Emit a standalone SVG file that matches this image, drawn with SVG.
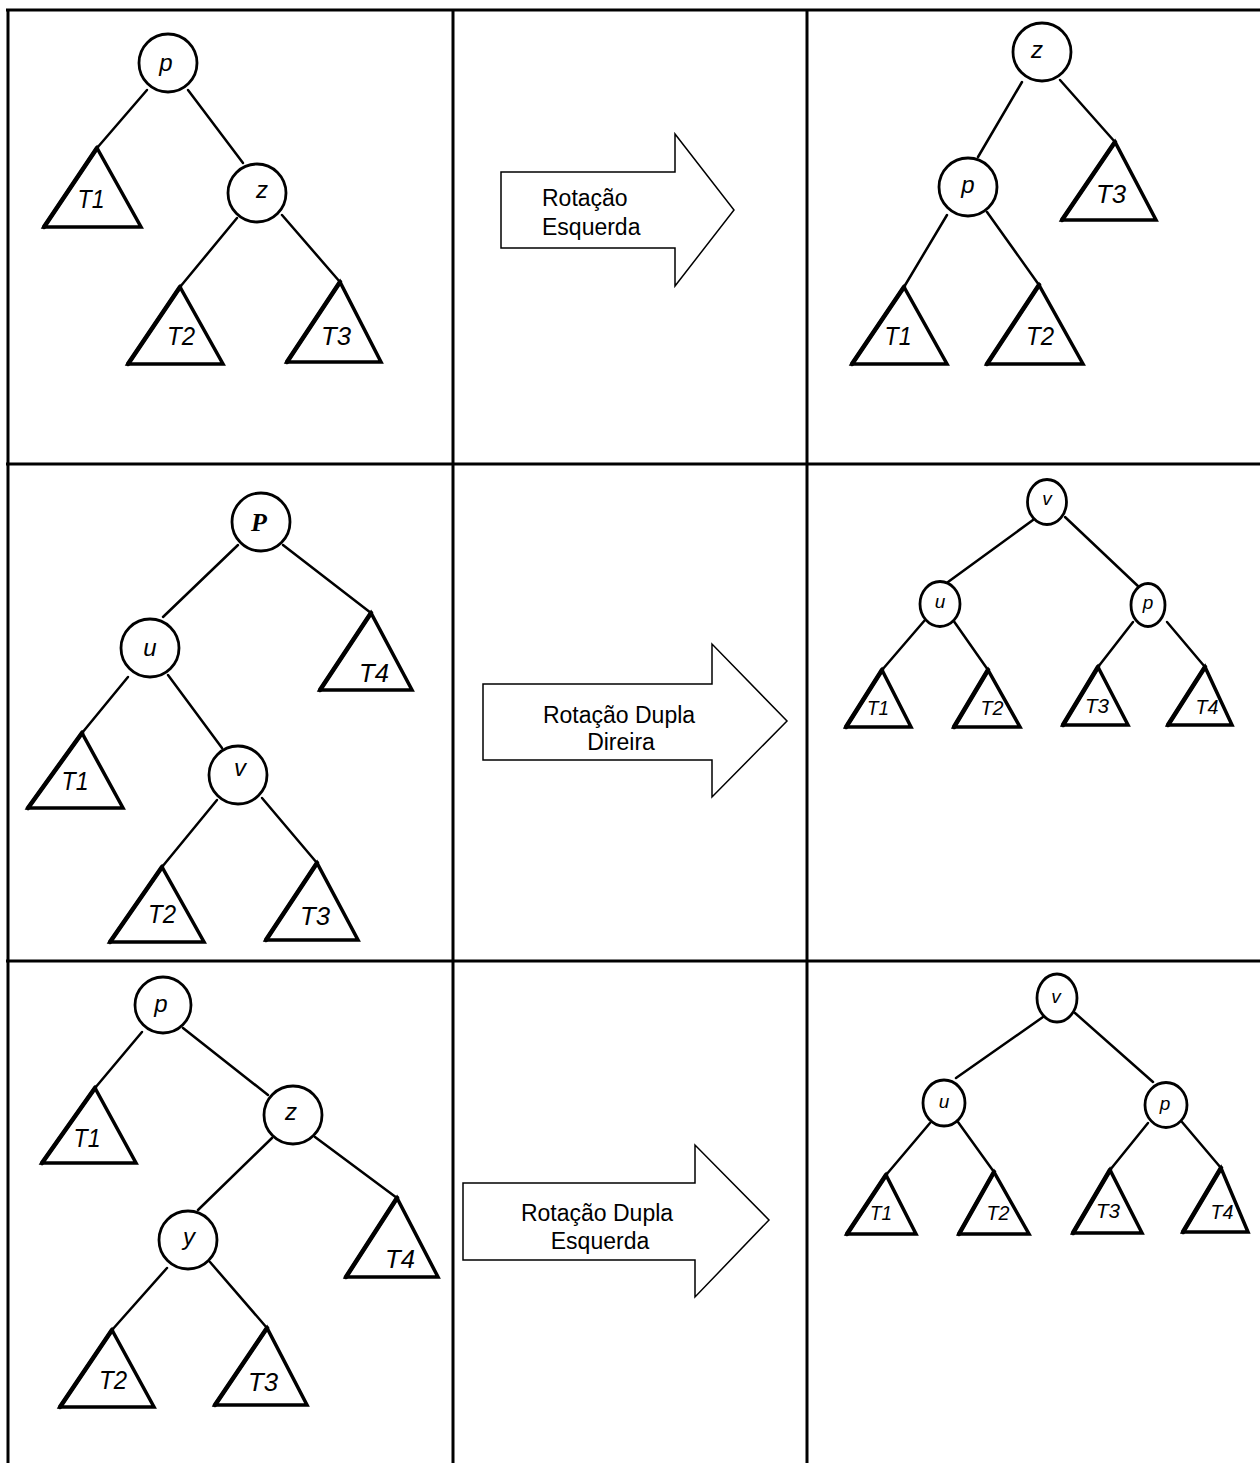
<svg xmlns="http://www.w3.org/2000/svg" width="1260" height="1463" viewBox="0 0 1260 1463">
<style>
.grid{stroke:#000;stroke-width:3;fill:none}
.edge{stroke:#000;stroke-width:2.5;fill:none;stroke-linecap:round}
.node{fill:#fff;stroke:#000;stroke-width:2.8}
.tri{fill:#fff;stroke:#000;stroke-width:3.5;stroke-linejoin:miter}
.tril{stroke:#000;stroke-width:4.5;stroke-linecap:round}
.lbl{font-family:"Liberation Sans",Arial,sans-serif;font-style:italic;font-size:25px;text-anchor:middle;fill:#000}
.slbl{font-family:"Liberation Sans",Arial,sans-serif;font-style:italic;font-size:21px;text-anchor:middle;fill:#000}
.nl{font-family:"Liberation Sans",Arial,sans-serif;font-style:italic;font-size:24px;text-anchor:middle;fill:#000}
.snl{font-family:"Liberation Sans",Arial,sans-serif;font-style:italic;font-size:19px;text-anchor:middle;fill:#000}
.arrow{fill:#fff;stroke:#000;stroke-width:1.5;stroke-linejoin:miter}
.at{font-family:"Liberation Sans",Arial,sans-serif;font-size:23px;fill:#000}
</style>
<rect width="1260" height="1463" fill="#fff"/>
<g id="grid">
<line class="grid" x1="6" y1="10" x2="1260" y2="10"/>
<line class="grid" x1="6" y1="464" x2="1260" y2="464"/>
<line class="grid" x1="6" y1="961" x2="1260" y2="961"/>
<line class="grid" x1="8" y1="9" x2="8" y2="1463"/>
<line class="grid" x1="453" y1="9" x2="453" y2="1463"/>
<line class="grid" x1="807" y1="9" x2="807" y2="1463"/>
</g>
<g id="connectors">
<line class="edge" x1="147" y1="90" x2="97" y2="148"/>
<line class="edge" x1="188" y1="90" x2="243" y2="163"/>
<line class="edge" x1="237" y1="218" x2="180" y2="287"/>
<line class="edge" x1="282" y1="215" x2="340" y2="282"/>
<line class="edge" x1="1022" y1="82" x2="978" y2="157"/>
<line class="edge" x1="1060" y1="80" x2="1115" y2="142"/>
<line class="edge" x1="947" y1="215" x2="904" y2="287"/>
<line class="edge" x1="987" y1="212" x2="1039" y2="285"/>
<line class="edge" x1="238" y1="545" x2="163" y2="617"/>
<line class="edge" x1="283" y1="545" x2="371" y2="613"/>
<line class="edge" x1="128" y1="677" x2="82" y2="733"/>
<line class="edge" x1="168" y1="675" x2="222" y2="748"/>
<line class="edge" x1="217" y1="800" x2="162" y2="867"/>
<line class="edge" x1="262" y1="798" x2="317" y2="863"/>
<line class="edge" x1="1033" y1="520" x2="948" y2="582"/>
<line class="edge" x1="1065" y1="517" x2="1140" y2="588"/>
<line class="edge" x1="925" y1="620" x2="882" y2="670"/>
<line class="edge" x1="953" y1="620" x2="988" y2="670"/>
<line class="edge" x1="1133" y1="622" x2="1098" y2="667"/>
<line class="edge" x1="1167" y1="622" x2="1205" y2="667"/>
<line class="edge" x1="142" y1="1032" x2="95" y2="1088"/>
<line class="edge" x1="183" y1="1028" x2="268" y2="1095"/>
<line class="edge" x1="272" y1="1138" x2="198" y2="1210"/>
<line class="edge" x1="315" y1="1137" x2="397" y2="1198"/>
<line class="edge" x1="167" y1="1268" x2="112" y2="1330"/>
<line class="edge" x1="210" y1="1262" x2="267" y2="1328"/>
<line class="edge" x1="1043" y1="1017" x2="956" y2="1078"/>
<line class="edge" x1="1075" y1="1013" x2="1153" y2="1082"/>
<line class="edge" x1="930" y1="1123" x2="886" y2="1175"/>
<line class="edge" x1="958" y1="1122" x2="994" y2="1172"/>
<line class="edge" x1="1148" y1="1123" x2="1110" y2="1170"/>
<line class="edge" x1="1182" y1="1122" x2="1221" y2="1168"/>
</g>
<g id="arrow1">
<polygon class="arrow" points="501,172 675,172 675,134 734,210 675,286 675,248 501,248"/>
<text class="at" x="542" y="206">Rotação</text>
<text class="at" x="542" y="235">Esquerda</text>
</g>
<g id="arrow2">
<polygon class="arrow" points="483,684 712,684 712,644 787,721 712,797 712,760 483,760"/>
<text class="at" x="619" y="723" text-anchor="middle">Rotação Dupla</text>
<text class="at" x="621" y="750" text-anchor="middle">Direira</text>
</g>
<g id="arrow3">
<polygon class="arrow" points="463,1183 695,1183 695,1145 769,1220 695,1297 695,1260 463,1260"/>
<text class="at" x="597" y="1221" text-anchor="middle">Rotação Dupla</text>
<text class="at" x="600" y="1249" text-anchor="middle">Esquerda</text>
</g>
<g id="tl-p"><circle class="node" cx="168" cy="63" r="29"/><text class="nl" x="166" y="71">p</text></g>
<g id="tl-z"><circle class="node" cx="257" cy="193" r="29"/><text class="nl" x="262" y="198">z</text></g>
<g id="tl-T1"><polygon class="tri" points="97,148 44,227 141,227"/><line class="tril" x1="97" y1="148" x2="44" y2="227"/><text class="lbl" x="91" y="208" textLength="27" lengthAdjust="spacingAndGlyphs">T1</text></g>
<g id="tl-T2"><polygon class="tri" points="180,287 128,364 223,364"/><line class="tril" x1="180" y1="287" x2="128" y2="364"/><text class="lbl" x="181" y="345" textLength="28" lengthAdjust="spacingAndGlyphs">T2</text></g>
<g id="tl-T3"><polygon class="tri" points="340,282 287,362 381,362"/><line class="tril" x1="340" y1="282" x2="287" y2="362"/><text class="lbl" x="336" y="345" textLength="30" lengthAdjust="spacingAndGlyphs">T3</text></g>
<g id="tr-z"><circle class="node" cx="1042" cy="52" r="29"/><text class="nl" x="1037" y="58">z</text></g>
<g id="tr-p"><circle class="node" cx="968" cy="187" r="29"/><text class="nl" x="968" y="193">p</text></g>
<g id="tr-T3"><polygon class="tri" points="1115,142 1062,220 1156,220"/><line class="tril" x1="1115" y1="142" x2="1062" y2="220"/><text class="lbl" x="1111" y="203" textLength="30" lengthAdjust="spacingAndGlyphs">T3</text></g>
<g id="tr-T1"><polygon class="tri" points="904,287 852,364 947,364"/><line class="tril" x1="904" y1="287" x2="852" y2="364"/><text class="lbl" x="898" y="345" textLength="27" lengthAdjust="spacingAndGlyphs">T1</text></g>
<g id="tr-T2"><polygon class="tri" points="1039,285 987,364 1083,364"/><line class="tril" x1="1039" y1="285" x2="987" y2="364"/><text class="lbl" x="1040" y="345" textLength="28" lengthAdjust="spacingAndGlyphs">T2</text></g>
<g id="ml-P"><circle class="node" cx="261" cy="522" r="29"/><text x="259" y="531" text-anchor="middle" font-family="'Liberation Serif','Times New Roman',serif" font-style="italic" font-weight="bold" font-size="26">P</text></g>
<g id="ml-u"><circle class="node" cx="150" cy="648" r="29"/><text class="nl" x="150" y="656">u</text></g>
<g id="ml-v"><circle class="node" cx="238" cy="775" r="29"/><text class="nl" x="240" y="776">v</text></g>
<g id="ml-T4"><polygon class="tri" points="371,613 320,690 412,690"/><line class="tril" x1="371" y1="613" x2="320" y2="690"/><text class="lbl" x="374" y="682" textLength="30" lengthAdjust="spacingAndGlyphs">T4</text></g>
<g id="ml-T1"><polygon class="tri" points="82,733 28,808 123,808"/><line class="tril" x1="82" y1="733" x2="28" y2="808"/><text class="lbl" x="75" y="790" textLength="27" lengthAdjust="spacingAndGlyphs">T1</text></g>
<g id="ml-T2"><polygon class="tri" points="162,867 110,942 204,942"/><line class="tril" x1="162" y1="867" x2="110" y2="942"/><text class="lbl" x="162" y="923" textLength="28" lengthAdjust="spacingAndGlyphs">T2</text></g>
<g id="ml-T3"><polygon class="tri" points="317,863 266,940 358,940"/><line class="tril" x1="317" y1="863" x2="266" y2="940"/><text class="lbl" x="315" y="925" textLength="30" lengthAdjust="spacingAndGlyphs">T3</text></g>
<g id="mr-v"><ellipse class="node" cx="1047" cy="502" rx="19.5" ry="22.5"/><text class="snl" x="1047" y="505">v</text></g>
<g id="mr-u"><ellipse class="node" cx="940" cy="604" rx="20" ry="22.5"/><text class="snl" x="940" y="608">u</text></g>
<g id="mr-p"><ellipse class="node" cx="1148" cy="605" rx="17" ry="21.5"/><text class="snl" x="1148" y="609">p</text></g>
<g id="mr-T1"><polygon class="tri" points="882,670 846,727 911,727"/><line class="tril" x1="882" y1="670" x2="846" y2="727"/><text class="slbl" x="878" y="715" textLength="22" lengthAdjust="spacingAndGlyphs">T1</text></g>
<g id="mr-T2"><polygon class="tri" points="988,670 954,727 1020,727"/><line class="tril" x1="988" y1="670" x2="954" y2="727"/><text class="slbl" x="992" y="715" textLength="23" lengthAdjust="spacingAndGlyphs">T2</text></g>
<g id="mr-T3"><polygon class="tri" points="1098,667 1063,725 1128,725"/><line class="tril" x1="1098" y1="667" x2="1063" y2="725"/><text class="slbl" x="1097" y="713" textLength="24" lengthAdjust="spacingAndGlyphs">T3</text></g>
<g id="mr-T4"><polygon class="tri" points="1205,667 1168,725 1232,725"/><line class="tril" x1="1205" y1="667" x2="1168" y2="725"/><text class="slbl" x="1207" y="714" textLength="23" lengthAdjust="spacingAndGlyphs">T4</text></g>
<g id="bl-p"><circle class="node" cx="163" cy="1005" r="28"/><text class="nl" x="161" y="1012">p</text></g>
<g id="bl-z"><circle class="node" cx="293" cy="1115" r="29"/><text class="nl" x="291" y="1120">z</text></g>
<g id="bl-y"><circle class="node" cx="188" cy="1240" r="29"/><text class="nl" x="189" y="1245">y</text></g>
<g id="bl-T1"><polygon class="tri" points="95,1088 42,1163 136,1163"/><line class="tril" x1="95" y1="1088" x2="42" y2="1163"/><text class="lbl" x="87" y="1147" textLength="27" lengthAdjust="spacingAndGlyphs">T1</text></g>
<g id="bl-T4"><polygon class="tri" points="397,1198 346,1277 438,1277"/><line class="tril" x1="397" y1="1198" x2="346" y2="1277"/><text class="lbl" x="400" y="1268" textLength="30" lengthAdjust="spacingAndGlyphs">T4</text></g>
<g id="bl-T2"><polygon class="tri" points="112,1330 60,1407 154,1407"/><line class="tril" x1="112" y1="1330" x2="60" y2="1407"/><text class="lbl" x="113" y="1389" textLength="28" lengthAdjust="spacingAndGlyphs">T2</text></g>
<g id="bl-T3"><polygon class="tri" points="267,1328 215,1405 307,1405"/><line class="tril" x1="267" y1="1328" x2="215" y2="1405"/><text class="lbl" x="263" y="1391" textLength="30" lengthAdjust="spacingAndGlyphs">T3</text></g>
<g id="br-v"><ellipse class="node" cx="1057" cy="998" rx="20" ry="24"/><text class="snl" x="1056" y="1003">v</text></g>
<g id="br-u"><ellipse class="node" cx="944" cy="1103" rx="21" ry="23"/><text class="snl" x="944" y="1108">u</text></g>
<g id="br-p"><ellipse class="node" cx="1166" cy="1105" rx="21" ry="22.5"/><text class="snl" x="1165" y="1110">p</text></g>
<g id="br-T1"><polygon class="tri" points="886,1175 847,1234 916,1234"/><line class="tril" x1="886" y1="1175" x2="847" y2="1234"/><text class="slbl" x="881" y="1220" textLength="22" lengthAdjust="spacingAndGlyphs">T1</text></g>
<g id="br-T2"><polygon class="tri" points="994,1172 959,1234 1029,1234"/><line class="tril" x1="994" y1="1172" x2="959" y2="1234"/><text class="slbl" x="998" y="1220" textLength="23" lengthAdjust="spacingAndGlyphs">T2</text></g>
<g id="br-T3"><polygon class="tri" points="1110,1170 1073,1233 1142,1233"/><line class="tril" x1="1110" y1="1170" x2="1073" y2="1233"/><text class="slbl" x="1108" y="1218" textLength="24" lengthAdjust="spacingAndGlyphs">T3</text></g>
<g id="br-T4"><polygon class="tri" points="1221,1168 1183,1232 1248,1232"/><line class="tril" x1="1221" y1="1168" x2="1183" y2="1232"/><text class="slbl" x="1222" y="1219" textLength="23" lengthAdjust="spacingAndGlyphs">T4</text></g>
</svg>
